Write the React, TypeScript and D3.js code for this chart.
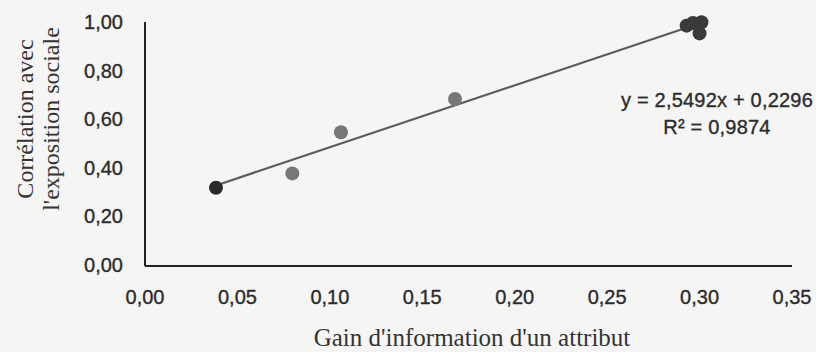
import React, { useEffect, useRef } from "react";
import * as d3 from "d3";

// gain d'information (x) vs corrélation avec l'exposition sociale (y)
const gainInfo = [0.0384, 0.0797, 0.106, 0.1677, 0.293, 0.2964, 0.301, 0.300];
const correlation = [0.318, 0.377, 0.546, 0.683, 0.985, 0.996, 0.999, 0.953];
const xTicks = [0, 0.05, 0.1, 0.15, 0.2, 0.25, 0.3, 0.35];
const yTicks = [0, 0.2, 0.4, 0.6, 0.8, 1.0];
const slope = 2.5492;
const intercept = 0.2296;
const r2 = 0.9874;

const pointTone = ["#2a2a2a", "#777", "#777", "#777", "#3a3a3a", "#3a3a3a", "#3a3a3a", "#3a3a3a"];

const W = 816;
const H = 352;
const fmt = (v: number, d: number) => v.toFixed(d).replace(".", ",");

function App() {
  const ref = useRef<SVGSVGElement>(null);

  useEffect(() => {
    const svg = d3.select(ref.current);
    svg.selectAll("*").remove();

    svg.append("rect").attr("width", W).attr("height", H).attr("fill", "#f5f5f4");

    var x = d3.scaleLinear().domain([0, 0.35]).range([145, 792]);
    var y = d3.scaleLinear().domain([0, 1]).range([265, 22]);

    const sans = "'Liberation Sans', Arial, sans-serif";
    const serif = "'Liberation Serif', 'Times New Roman', serif";
    const ink = "#2c2c2c";

    // axes lines
    svg.append("line")
      .attr("x1", x(0)).attr("x2", x(0))
      .attr("y1", y(1)).attr("y2", y(0) + 1)
      .attr("stroke", "#222").attr("stroke-width", 2);
    svg.append("line")
      .attr("x1", x(0)).attr("x2", x(0.35))
      .attr("y1", y(0) + 1).attr("y2", y(0) + 1)
      .attr("stroke", "#222").attr("stroke-width", 2);

    // tick labels
    svg.append("g").selectAll("text")
      .data(xTicks).enter().append("text")
      .attr("x", d => x(d))
      .attr("y", 304)
      .attr("text-anchor", "middle")
      .attr("font-family", sans).attr("font-size", 20)
      .attr("fill", ink).attr("stroke", ink).attr("stroke-width", 0.35)
      .text(d => fmt(d, 2));

    svg.append("g").selectAll("text")
      .data(yTicks).enter().append("text")
      .attr("x", 123)
      .attr("y", d => y(d) + 7)
      .attr("text-anchor", "end")
      .attr("font-family", sans).attr("font-size", 20)
      .attr("fill", ink).attr("stroke", ink).attr("stroke-width", 0.35)
      .text(d => fmt(d, 2));

    // trendline
    const [x0, x1] = d3.extent(gainInfo) as [number, number];
    svg.append("line")
      .attr("x1", x(x0)).attr("y1", y(slope * x0 + intercept))
      .attr("x2", x(x1)).attr("y2", y(slope * x1 + intercept))
      .attr("stroke", "#5c5c5c").attr("stroke-width", 2.2);

    // points
    svg.append("g").selectAll("circle")
      .data(gainInfo).enter().append("circle")
      .attr("cx", d => x(d))
      .attr("cy", (d, i) => y(correlation[i]))
      .attr("r", 7)
      .attr("fill", (d, i) => pointTone[i]);

    // equation
    const eq = svg.append("g").attr("font-family", sans).attr("font-size", 20)
      .attr("letter-spacing", 0.2).attr("fill", ink).attr("stroke", ink)
      .attr("stroke-width", 0.35).attr("text-anchor", "middle");
    eq.append("text").attr("x", 717).attr("y", 107)
      .text(`y = ${fmt(slope, 4)}x + ${fmt(intercept, 4)}`);
    eq.append("text").attr("x", 717).attr("y", 134)
      .text(`R² = ${fmt(r2, 4)}`);

    // axis titles
    svg.append("text")
      .attr("x", 472).attr("y", 346)
      .attr("text-anchor", "middle")
      .attr("font-family", serif).attr("font-size", 25)
      .attr("fill", "#333")
      .text("Gain d'information d'un attribut");

    const yt = svg.append("g")
      .attr("transform", "translate(0,119) rotate(-90)")
      .attr("font-family", serif).attr("font-size", 24)
      .attr("fill", "#333").attr("text-anchor", "middle");
    yt.append("text").attr("x", 0).attr("y", 33).text("Corrélation avec");
    yt.append("text").attr("x", 0).attr("y", 59).text("l'exposition sociale");
  }, []);

  return (
    <svg ref={ref} width={W} height={H}
      style={{ position: "absolute", left: 0, top: 0, display: "block" }} />
  );
}

export default App;
